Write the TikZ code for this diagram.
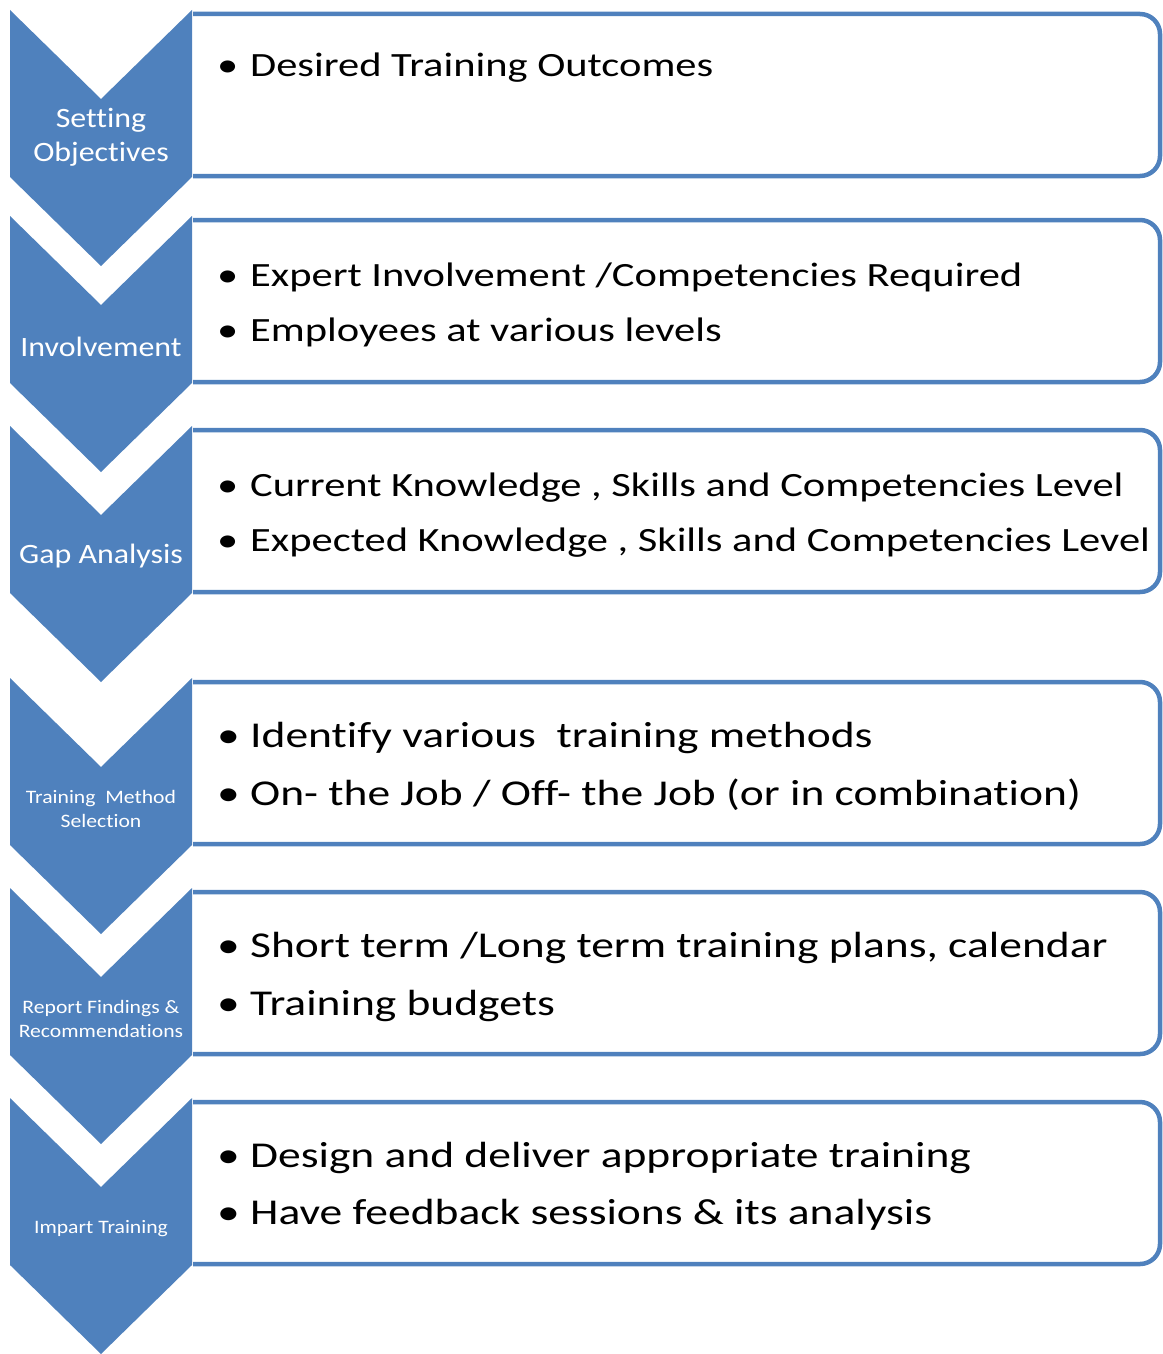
\documentclass[tikz,border=0pt]{standalone}
\usepackage{fontspec}
\setmainfont{Carlito}[Ligatures=NoCommon]
\newfontfamily\boxfont{Carlito}[Ligatures=NoCommon,FakeStretch=1.25]
\newfontfamily\labfont{Carlito}[Ligatures=NoCommon,FakeStretch=1.14]
\definecolor{accent}{HTML}{4F81BD}
\tikzset{
  chev/.style={fill=accent, draw=none},
  boxframe/.style={draw=accent, line width=4.5pt, fill=white},
  chevlabel/.style={text=white, align=center, inner sep=0pt},
  biglabel/.style={chevlabel, font=\labfont\fontsize{28}{34}\selectfont},
  smalllabel/.style={chevlabel, font=\labfont\fontsize{19}{24}\selectfont},
  itemA/.style={anchor=base west, inner sep=0pt, font=\boxfont\fontsize{34}{40}\selectfont},
  itemB/.style={anchor=base west, inner sep=0pt, font=\boxfont\fontsize{36.4}{42}\selectfont},
}
\newcommand{\bul}{\makebox[33pt][l]{\textbullet}}
\newcommand{\stagebox}[2]{% name, chevron top
  \draw[boxframe] (193,#2+4) -- (1140,#2+4) arc[start angle=-90,end angle=0,radius=20]
     -- (1160,#2+146) arc[start angle=0,end angle=90,radius=20] -- (193,#2+166);
  \path[chev] (10,#2) -- (101,#2+89) -- (192,#2) -- (192,#2+167) -- (101,#2+256) -- (10,#2+167) -- cycle;
  \coordinate (#1) at (101,#2);
}
\begin{document}
\begin{tikzpicture}[x=1pt,y=-1pt]
\useasboundingbox (0,0) rectangle (1162,1354);
% stages
\stagebox{s1}{10}
\stagebox{s2}{216}
\stagebox{s3}{426}
\stagebox{s4}{678}
\stagebox{s5}{888}
\stagebox{s6}{1098}
% chevron labels
\node[biglabel] (l1) at (101,137) {Setting\\Objectives};
\node[biglabel] (l2) at (101,347) {Involvement};
\node[biglabel] (l3) at (101,556) {Gap Analysis};
\node[smalllabel] (l4) at (101,809) {Training\ \ Method\\Selection};
\node[smalllabel] (l5) at (101,1019) {Report Findings \&\\Recommendations};
\node[smalllabel] (l6) at (101,1229) {Impart Training};
% box items
\node[itemA] (t1a) at (217,77) {\bul Desired Training Outcomes};
\node[itemA] (t2a) at (217,286) {\bul Expert Involvement /Competencies Required};
\node[itemA] (t2b) at (217,341) {\bul Employees at various levels};
\node[itemA] (t3a) at (217,496) {\bul Current Knowledge , Skills and Competencies Level};
\node[itemA] (t3b) at (217,551) {\bul Expected Knowledge , Skills and Competencies Level};
\node[itemB] (t4a) at (217,747) {\bul Identify various\ \ training methods};
\node[itemB] (t4b) at (217,805) {\bul On- the Job / Off- the Job (or in combination)};
\node[itemB] (t5a) at (217,957) {\bul Short term /Long term training plans, calendar};
\node[itemB] (t5b) at (217,1015) {\bul Training budgets};
\node[itemB] (t6a) at (217,1167) {\bul Design and deliver appropriate training};
\node[itemB] (t6b) at (217,1224) {\bul Have feedback sessions \& its analysis};
\end{tikzpicture}
\end{document}
